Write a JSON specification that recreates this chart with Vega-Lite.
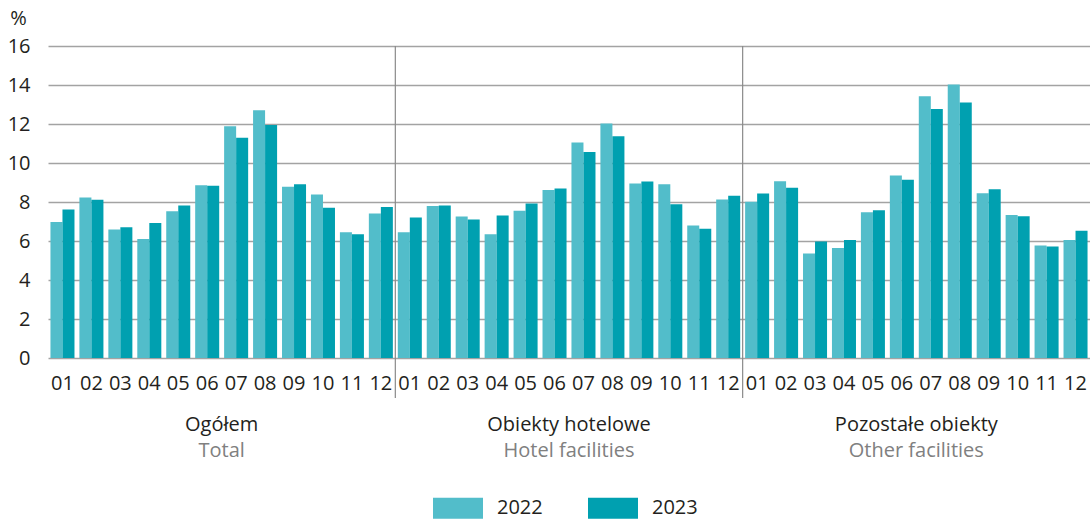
{
  "$schema": "https://vega.github.io/schema/vega-lite/v6.json",
  "width": 1042,
  "height": 312,
  "autosize": "none",
  "padding": {"left": 48, "top": 46, "right": 0, "bottom": 161},
  "background": "white",
  "config": {
    "font": "Open Sans",
    "view": {"stroke": null},
    "axisY": {
      "ticks": false, "domain": false, "labelFontSize": 20, "labelColor": "#231f20",
      "labelPadding": 18, "labelFont": "Open Sans", "labelOverlap": false,
      "grid": true, "gridColor": "#a3a3a3", "gridWidth": 1.3,
      "titleAngle": 0, "titleX": -30, "titleY": -28,
      "titleAlign": "center", "titleBaseline": "middle", "titleFontSize": 20,
      "titleFontWeight": "normal", "titleColor": "#231f20", "titleFont": "Open Sans"
    },
    "axisX": {
      "ticks": false, "domain": false, "labelFontSize": 20, "labelColor": "#231f20",
      "labelPadding": 15, "labelFont": "Open Sans", "labelOverlap": false, "labelAngle": 0, "grid": false
    }
  },
  "datasets": {
    "bars": [
      {"k": "1-01", "year": "2022", "v": 6.98}, {"k": "1-01", "year": "2023", "v": 7.62},
      {"k": "1-02", "year": "2022", "v": 8.23}, {"k": "1-02", "year": "2023", "v": 8.11},
      {"k": "1-03", "year": "2022", "v": 6.59}, {"k": "1-03", "year": "2023", "v": 6.71},
      {"k": "1-04", "year": "2022", "v": 6.10}, {"k": "1-04", "year": "2023", "v": 6.92},
      {"k": "1-05", "year": "2022", "v": 7.53}, {"k": "1-05", "year": "2023", "v": 7.82},
      {"k": "1-06", "year": "2022", "v": 8.86}, {"k": "1-06", "year": "2023", "v": 8.83},
      {"k": "1-07", "year": "2022", "v": 11.89}, {"k": "1-07", "year": "2023", "v": 11.30},
      {"k": "1-08", "year": "2022", "v": 12.70}, {"k": "1-08", "year": "2023", "v": 11.95},
      {"k": "1-09", "year": "2022", "v": 8.78}, {"k": "1-09", "year": "2023", "v": 8.91},
      {"k": "1-10", "year": "2022", "v": 8.38}, {"k": "1-10", "year": "2023", "v": 7.70},
      {"k": "1-11", "year": "2022", "v": 6.45}, {"k": "1-11", "year": "2023", "v": 6.34},
      {"k": "1-12", "year": "2022", "v": 7.41}, {"k": "1-12", "year": "2023", "v": 7.74},
      {"k": "2-01", "year": "2022", "v": 6.45}, {"k": "2-01", "year": "2023", "v": 7.21},
      {"k": "2-02", "year": "2022", "v": 7.79}, {"k": "2-02", "year": "2023", "v": 7.82},
      {"k": "2-03", "year": "2022", "v": 7.26}, {"k": "2-03", "year": "2023", "v": 7.10},
      {"k": "2-04", "year": "2022", "v": 6.35}, {"k": "2-04", "year": "2023", "v": 7.31},
      {"k": "2-05", "year": "2022", "v": 7.55}, {"k": "2-05", "year": "2023", "v": 7.92},
      {"k": "2-06", "year": "2022", "v": 8.62}, {"k": "2-06", "year": "2023", "v": 8.69},
      {"k": "2-07", "year": "2022", "v": 11.05}, {"k": "2-07", "year": "2023", "v": 10.57},
      {"k": "2-08", "year": "2022", "v": 12.02}, {"k": "2-08", "year": "2023", "v": 11.37},
      {"k": "2-09", "year": "2022", "v": 8.95}, {"k": "2-09", "year": "2023", "v": 9.05},
      {"k": "2-10", "year": "2022", "v": 8.91}, {"k": "2-10", "year": "2023", "v": 7.89},
      {"k": "2-11", "year": "2022", "v": 6.80}, {"k": "2-11", "year": "2023", "v": 6.63},
      {"k": "2-12", "year": "2022", "v": 8.13}, {"k": "2-12", "year": "2023", "v": 8.32},
      {"k": "3-01", "year": "2022", "v": 8.01}, {"k": "3-01", "year": "2023", "v": 8.44},
      {"k": "3-02", "year": "2022", "v": 9.07}, {"k": "3-02", "year": "2023", "v": 8.73},
      {"k": "3-03", "year": "2022", "v": 5.36}, {"k": "3-03", "year": "2023", "v": 5.98},
      {"k": "3-04", "year": "2022", "v": 5.64}, {"k": "3-04", "year": "2023", "v": 6.05},
      {"k": "3-05", "year": "2022", "v": 7.48}, {"k": "3-05", "year": "2023", "v": 7.58},
      {"k": "3-06", "year": "2022", "v": 9.36}, {"k": "3-06", "year": "2023", "v": 9.14},
      {"k": "3-07", "year": "2022", "v": 13.42}, {"k": "3-07", "year": "2023", "v": 12.77},
      {"k": "3-08", "year": "2022", "v": 14.02}, {"k": "3-08", "year": "2023", "v": 13.10},
      {"k": "3-09", "year": "2022", "v": 8.45}, {"k": "3-09", "year": "2023", "v": 8.66},
      {"k": "3-10", "year": "2022", "v": 7.33}, {"k": "3-10", "year": "2023", "v": 7.27},
      {"k": "3-11", "year": "2022", "v": 5.77}, {"k": "3-11", "year": "2023", "v": 5.72},
      {"k": "3-12", "year": "2022", "v": 6.05}, {"k": "3-12", "year": "2023", "v": 6.52}
    ],
    "seps": [{"k": "1-12"}, {"k": "2-12"}],
    "panels": [
      {"k": "1-06", "t": "Ogółem", "s": "Total"},
      {"k": "2-06", "t": "Obiekty hotelowe", "s": "Hotel facilities"},
      {"k": "3-06", "t": "Pozostałe obiekty", "s": "Other facilities"}
    ]
  },
  "layer": [
    {
      "data": {"name": "bars"},
      "mark": {"type": "bar"},
      "encoding": {
        "x": {
          "field": "k", "type": "nominal",
          "scale": {"paddingInner": 0.17, "paddingOuter": 0.085},
          "axis": {"title": null, "labelExpr": "slice(datum.value, 2)"}
        },
        "xOffset": {"field": "year", "type": "nominal", "scale": {"paddingInner": 0, "paddingOuter": 0}},
        "y": {
          "field": "v", "type": "quantitative",
          "scale": {"domain": [0, 16], "nice": false},
          "axis": {"title": "%", "values": [0, 2, 4, 6, 8, 10, 12, 14, 16]}
        },
        "color": {
          "field": "year", "type": "nominal",
          "scale": {"domain": ["2022", "2023"], "range": ["#52bdca", "#00a0b0"]},
          "legend": {
            "title": null, "orient": "none", "direction": "horizontal",
            "legendX": 385, "legendY": 437,
            "symbolType": "M-1,-0.42H1V0.42H-1Z", "symbolSize": 2500,
            "symbolStrokeWidth": 0, "symbolOpacity": 1,
            "labelFontSize": 20, "labelColor": "#231f20", "labelFont": "Open Sans",
            "labelOffset": 14, "columnPadding": 45
          }
        }
      }
    },
    {
      "data": {"name": "seps"},
      "mark": {"type": "rule", "color": "#8a8a8a", "strokeWidth": 1.2},
      "encoding": {
        "x": {"field": "k", "type": "nominal", "bandPosition": 1.102, "axis": {"title": null, "labelExpr": "slice(datum.value, 2)"}},
        "y": {"datum": 16, "type": "quantitative", "axis": {"title": "%", "values": [0, 2, 4, 6, 8, 10, 12, 14, 16]}},
        "y2": {"datum": -2.05}
      }
    },
    {
      "data": {"name": "panels"},
      "mark": {"type": "text", "fontSize": 20, "color": "#231f20", "baseline": "middle", "align": "center", "font": "Open Sans"},
      "encoding": {
        "x": {"field": "k", "type": "nominal", "bandPosition": 1.102, "axis": {"title": null, "labelExpr": "slice(datum.value, 2)"}},
        "y": {"datum": -3.44, "type": "quantitative", "axis": {"title": "%", "values": [0, 2, 4, 6, 8, 10, 12, 14, 16]}},
        "text": {"field": "t"}
      }
    },
    {
      "data": {"name": "panels"},
      "mark": {"type": "text", "fontSize": 20, "color": "#808080", "baseline": "middle", "align": "center", "font": "Open Sans"},
      "encoding": {
        "x": {"field": "k", "type": "nominal", "bandPosition": 1.102, "axis": {"title": null, "labelExpr": "slice(datum.value, 2)"}},
        "y": {"datum": -4.77, "type": "quantitative", "axis": {"title": "%", "values": [0, 2, 4, 6, 8, 10, 12, 14, 16]}},
        "text": {"field": "s"}
      }
    }
  ]
}
